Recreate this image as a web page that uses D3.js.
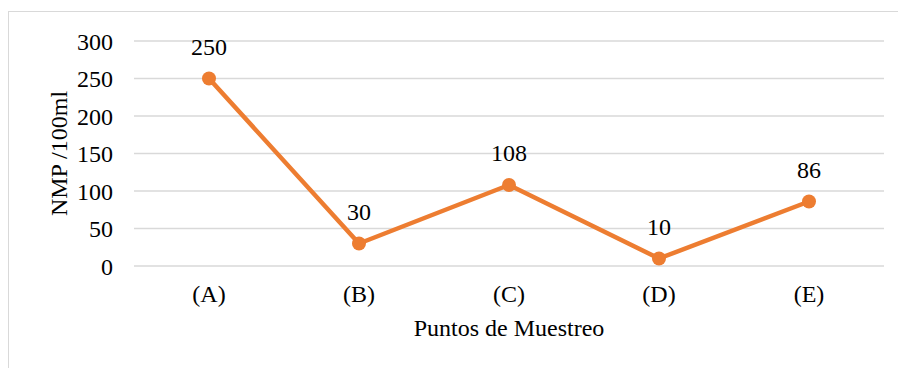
<!DOCTYPE html>
<html>
<head>
<meta charset="utf-8">
<script src="https://cdn.jsdelivr.net/npm/d3@7"></script>
<style>
  body { margin: 0; background: #fff; }
  svg text { font-family: 'Liberation Serif', 'Times New Roman', 'DejaVu Serif', serif; fill: #000; }
</style>
</head>
<body>
<div id="chart"></div>
<script>
// data
var puntos = ['(A)', '(B)', '(C)', '(D)', '(E)']
var nmp = [250, 30, 108, 10, 86]
var yTicks = [0, 50, 100, 150, 200, 250, 300]

var width = 898
var height = 368
var margin = { top: 41, bottom: 102, left: 134, right: 14 }
var fontSize = 24
var serif = "'Liberation Serif', 'Times New Roman', 'DejaVu Serif', serif"

var svg = d3
  .select('#chart')
  .append('svg')
  .attr('width', width)
  .attr('height', height)

// chart border
svg
  .append('rect')
  .attr('x', 8.5)
  .attr('y', 11.5)
  .attr('width', width + 10)
  .attr('height', height + 10)
  .attr('fill', 'none')
  .attr('stroke', '#d9d9d9')

var g = svg
  .append('g')
  .attr('transform', 'translate(' + margin.left + ',' + margin.top + ')')

var w = 884 - margin.left
var h = 266 - margin.top

var x = d3.scaleBand().domain(puntos).range([0, w])
var y = d3.scaleLinear().domain([0, 300]).range([h, 0])

// gridlines
g.selectAll('.grid')
  .data(yTicks)
  .enter()
  .append('line')
  .attr('x1', 0)
  .attr('x2', w)
  .attr('y1', d => y(d))
  .attr('y2', d => y(d))
  .attr('stroke', '#d9d9d9')
  .attr('stroke-width', 1.3)

// y axis labels
var yAxis = g.append('g').call(d3.axisLeft(y).tickValues(yTicks).tickSize(0).tickPadding(21))
yAxis.select('.domain').remove()
yAxis.attr('font-size', fontSize).attr('font-family', serif)
yAxis.selectAll('text').attr('dy', '0.34em')

// x axis labels
var xAxis = g
  .append('g')
  .attr('transform', 'translate(0,' + h + ')')
  .call(d3.axisBottom(x).tickSize(0).tickPadding(19))
xAxis.select('.domain').remove()
xAxis.attr('font-size', fontSize).attr('font-family', serif)

// line
var line = d3
  .line()
  .x((d, i) => x(puntos[i]) + x.bandwidth() / 2)
  .y(d => y(d))

g.append('path')
  .datum(nmp)
  .attr('d', line)
  .attr('fill', 'none')
  .attr('stroke', '#ED7D31')
  .attr('stroke-width', 4.5)
  .attr('stroke-linejoin', 'round')
  .attr('stroke-linecap', 'round')

g.selectAll('.dot')
  .data(nmp)
  .enter()
  .append('circle')
  .attr('cx', (d, i) => x(puntos[i]) + x.bandwidth() / 2)
  .attr('cy', d => y(d))
  .attr('r', 7)
  .attr('fill', '#ED7D31')

// data labels
g.selectAll('.lbl')
  .data(nmp)
  .enter()
  .append('text')
  .attr('x', (d, i) => x(puntos[i]) + x.bandwidth() / 2)
  .attr('y', d => y(d) - 24)
  .attr('text-anchor', 'middle')
  .attr('font-size', fontSize)
  .text(d => d)

// axis titles
svg
  .append('text')
  .attr('x', margin.left + w / 2)
  .attr('y', 336)
  .attr('text-anchor', 'middle')
  .attr('font-size', fontSize)
  .text('Puntos de Muestreo')

svg
  .append('text')
  .attr('transform', 'translate(67,' + (margin.top + h / 2) + ') rotate(-90)')
  .attr('text-anchor', 'middle')
  .attr('font-size', fontSize)
  .text('NMP /100ml')
</script>
</body>
</html>
